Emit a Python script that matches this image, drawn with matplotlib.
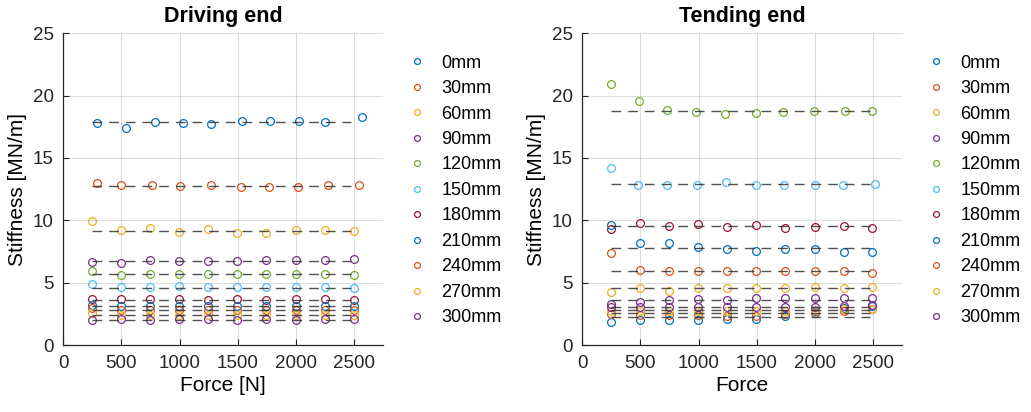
import matplotlib

matplotlib.use("Agg")
import matplotlib.pyplot as plt

plt.rcParams["font.family"] = ["Liberation Sans", "DejaVu Sans"]

# legend labels (load position)
positions = ["0mm", "30mm", "60mm", "90mm", "120mm", "150mm",
             "180mm", "210mm", "240mm", "270mm", "300mm"]

# MATLAB default colour order, cycled over the 11 series
colors = ["#0072BD", "#D95319", "#EDB120", "#7E2F8E", "#77AC30", "#4DBEEE", "#A2142F"]

# --- Driving end: force [N] per series ---
drive_x_0 = [287, 536, 788, 1028, 1275, 1541, 1782, 2025, 2248, 2569]
drive_x_30 = [287, 496, 765, 1008, 1275, 1527, 1767, 2019, 2280, 2540]
drive_x_rest = [244, 496, 745, 994, 1247, 1498, 1747, 2000, 2248, 2497]

# stiffness [MN/m]
drive_y = [
    [17.78, 17.38, 17.91, 17.78, 17.72, 17.96, 17.96, 17.99, 17.86, 18.26],
    [12.97, 12.86, 12.86, 12.75, 12.80, 12.65, 12.70, 12.70, 12.86, 12.86],
    [9.94, 9.22, 9.36, 9.09, 9.28, 9.01, 9.01, 9.22, 9.22, 9.14],
    [6.63, 6.60, 6.82, 6.74, 6.74, 6.74, 6.82, 6.82, 6.82, 6.87],
    [5.93, 5.59, 5.69, 5.69, 5.69, 5.69, 5.69, 5.69, 5.69, 5.59],
    [4.87, 4.65, 4.65, 4.70, 4.68, 4.63, 4.63, 4.63, 4.65, 4.60],
    [3.71, 3.66, 3.66, 3.66, 3.64, 3.66, 3.64, 3.66, 3.66, 3.63],
    [3.20, 3.10, 3.15, 3.12, 3.10, 3.13, 3.12, 3.10, 3.13, 3.15],
    [3.00, 2.80, 2.78, 2.80, 2.82, 2.80, 2.78, 2.80, 2.82, 2.80],
    [2.60, 2.40, 2.42, 2.40, 2.38, 2.40, 2.42, 2.40, 2.40, 2.38],
    [2.00, 2.05, 2.02, 2.05, 2.05, 2.02, 2.05, 2.02, 2.05, 2.05],
]
drive_fit = [17.86, 12.78, 9.17, 6.76, 5.67, 4.60, 3.61, 3.13, 2.80, 2.40, 2.03]

# --- Tending end ---
tend_x_120 = [244, 485, 730, 979, 1232, 1498, 1724, 1993, 2257, 2491]
tend_x_150 = [244, 478, 730, 983, 1240, 1498, 1735, 2001, 2242, 2515]
tend_x_rest = [244, 496, 742, 997, 1245, 1498, 1747, 2000, 2248, 2494]

tend_y = [
    [1.85, 2.00, 2.00, 2.00, 2.05, 2.05, 2.30, 2.70, 3.00, 3.15],
    [2.45, 2.40, 2.40, 2.40, 2.35, 2.35, 2.45, 2.55, 2.75, 2.85],
    [2.75, 2.70, 2.75, 2.75, 2.75, 2.75, 2.75, 2.80, 2.85, 2.90],
    [3.05, 3.05, 3.05, 3.05, 3.05, 3.05, 3.05, 3.05, 3.10, 3.20],
    [20.93, 19.54, 18.85, 18.71, 18.52, 18.58, 18.66, 18.79, 18.79, 18.79],
    [14.17, 12.81, 12.86, 12.86, 13.10, 12.86, 12.86, 12.86, 12.86, 12.91],
    [9.30, 9.76, 9.57, 9.70, 9.49, 9.65, 9.38, 9.44, 9.54, 9.41],
    [9.62, 8.20, 8.15, 7.88, 7.70, 7.56, 7.67, 7.67, 7.48, 7.43],
    [7.40, 6.01, 5.93, 5.96, 5.93, 5.93, 5.93, 5.93, 5.93, 5.80],
    [4.28, 4.55, 4.36, 4.55, 4.55, 4.55, 4.55, 4.68, 4.55, 4.63],
    [3.30, 3.47, 3.61, 3.69, 3.61, 3.74, 3.74, 3.74, 3.74, 3.74],
]
tend_fit = [2.27, 2.54, 2.81, 3.07, 18.79, 12.91, 9.54, 7.75, 5.93, 4.55, 3.63]

# fit lines span the tested load range
fit_span = [250, 2475]


def drive_x(i: int) -> list[int]:
    if i == 0:
        return drive_x_0
    if i == 1:
        return drive_x_30
    return drive_x_rest


def tend_x(i: int) -> list[int]:
    if i == 4:
        return tend_x_120
    if i == 5:
        return tend_x_150
    return tend_x_rest


def draw_panel(ax, xs_for, ys, fits, title, xlabel):
    for i, label in enumerate(positions):
        c = colors[i % len(colors)]
        ax.plot(xs_for(i), ys[i], linestyle="none", marker="o", markersize=5.6,
                markerfacecolor="none", markeredgecolor=c, markeredgewidth=0.9,
                label=label, zorder=3)
    for fit in fits:
        ax.plot(fit_span, [fit, fit], color="#333333", linewidth=1.0,
                dashes=(7, 5), alpha=0.85, zorder=4)

    ax.set_xlim(0, 2750)
    ax.set_ylim(0, 25)
    ax.set_xticks([0, 500, 1000, 1500, 2000, 2500])
    ax.set_yticks([0, 5, 10, 15, 20, 25])
    ax.grid(True, color="#000000", alpha=0.13, linewidth=0.8)
    ax.set_axisbelow(True)
    for side in ("top", "right"):
        ax.spines[side].set_visible(False)
    for side in ("left", "bottom"):
        ax.spines[side].set_color("#262626")
        ax.spines[side].set_linewidth(0.9)
    ax.tick_params(direction="in", length=4, width=0.8, colors="#262626",
                   labelsize=13.5, pad=7)
    ax.set_title(title, fontsize=15.5, fontweight="bold", pad=8)
    ax.set_xlabel(xlabel, fontsize=15, labelpad=3)
    ax.set_ylabel("Stiffness [MN/m]", fontsize=15, labelpad=4)
    ax.legend(loc="upper left", bbox_to_anchor=(1.05, 0.955), frameon=False,
              fontsize=13, markerscale=0.75, handlelength=1.2, handletextpad=0.75,
              labelspacing=0.47, borderaxespad=0)


fig = plt.figure(figsize=(10.31, 4.12), dpi=100)
ax1 = fig.add_axes([0.0614, 0.1626, 0.310, 0.7566])
ax2 = fig.add_axes([0.5648, 0.1626, 0.310, 0.7566])

draw_panel(ax1, drive_x, drive_y, drive_fit, "Driving end", "Force [N]")
draw_panel(ax2, tend_x, tend_y, tend_fit, "Tending end", "Force")

fig.savefig("out.png", dpi=100)
